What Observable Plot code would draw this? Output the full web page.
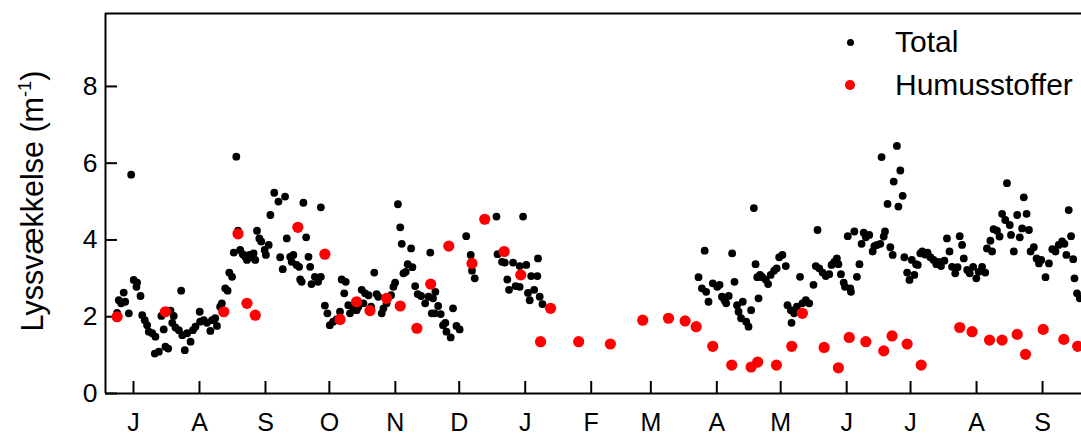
<!DOCTYPE html>
<html>
<head>
<meta charset="utf-8">
<script src="https://cdn.jsdelivr.net/npm/d3@7"></script>
<script src="https://cdn.jsdelivr.net/npm/@observablehq/plot@0.6"></script>
<style>
  html, body { margin: 0; padding: 0; background: #fff; }
  #wrap { position: relative; width: 1081px; height: 437px; font-family: "Liberation Sans", Arial, sans-serif; color: #000; }
  #ylabel { position: absolute; left: 32px; top: 201px; transform: translate(-50%, -50%) rotate(-90deg); white-space: nowrap; font-size: 30.5px; line-height: normal; }
  #ylabel sup { font-size: 0.6em; }
  .legdot { position: absolute; border-radius: 50%; }
  .legtxt { position: absolute; font-size: 30px; line-height: 34px; white-space: nowrap; }
</style>
</head>
<body>
<div id="wrap"></div>
<script>
// Days counted from 1 July 2005
const totalDays = [6.3,7.1,8.2,9.4,10.1,11.8,12.9,14.1,15.4,15.7,17.3,18.1,19.3,20.4,21.2,22.8,24.0,24.3,25.9,27.1,28.2,29.0,30.3,31.4,32.2,32.9,33.7,35.3,36.4,36.9,38.1,39.2,40.8,41.9,43.1,45.1,45.3,47.0,48.5,50.1,50.9,52.4,53.2,54.7,55.5,57.1,58.2,59.0,60.3,61.1,62.3,63.1,64.1,65.3,66.5,67.3,68.4,69.3,70.4,71.2,72.0,73.1,74.0,75.6,76.2,77.5,78.3,80.1,82.1,82.9,84.1,85.2,86.0,87.6,88.3,89.1,90.6,91.8,92.3,93.0,93.8,95.1,96.2,97.0,97.6,99.2,100.7,102.0,102.0,103.9,105.1,106.2,107.8,109.4,111.0,111.8,113.0,113.7,114.9,115.7,117.2,118.8,119.6,121.2,122.0,122.8,124.4,125.6,127.1,128.2,129.0,130.6,131.4,132.9,135.0,136.1,136.9,138.2,139.3,140.0,140.8,141.9,142.8,144.4,145.0,146.3,147.5,149.1,151.0,152.6,153.4,154.1,154.7,155.5,155.8,157.1,158.3,159.4,160.5,161.0,163.0,164.1,165.7,167.2,170.3,172.4,173.0,174.3,184.5,185.0,187.1,188.4,189.6,190.4,192.3,193.5,195.4,195.4,197.0,198.5,199.3,200.1,200.8,202.2,203.7,204.0,204.8,206.1,
279.4,281.0,282.3,283.0,284.1,286.1,288.2,289.3,290.4,291.6,292.4,293.6,295.2,296.3,297.5,298.2,299.4,300.2,301.8,302.9,304.1,305.4,306.2,307.0,307.6,308.3,309.4,311.0,312.1,313.3,314.9,316.1,317.3,318.8,320.4,321.2,322.8,323.1,324.3,325.6,327.1,328.2,329.8,331.4,333.4,334.5,335.3,336.1,337.7,339.2,340.8,341.9,343.2,344.4,345.1,346.3,347.6,348.2,349.5,350.7,351.0,352.6,353.8,355.0,356.0,357.0,358.0,359.6,361.2,362.0,363.2,364.8,365.4,366.4,367.0,368.2,369.5,370.6,371.1,372.6,373.3,374.2,375.3,376.1,377.4,378.5,379.6,380.8,381.6,382.4,383.6,384.5,385.8,387.0,388.3,389.8,391.1,392.2,393.3,394.9,396.1,397.3,398.5,400.0,401.1,402.1,403.2,404.0,405.6,406.8,408.4,409.9,411.0,412.6,414.1,414.9,416.5,417.3,418.0,419.6,420.8,422.0,423.5,424.3,425.6,426.2,427.5,429.1,430.3,431.4,432.2,433.5,434.6,435.4,436.9,438.2,439.3,440.4,442.4,444.0,445.6,447.1,448.6,450.2,451.3,452.2,453.3,454.4,455.4,456.0,457.2,458.5];
const totalValues = [2.10,2.43,2.35,2.63,2.39,2.09,5.70,2.96,2.78,2.89,2.54,2.04,1.91,1.78,1.61,1.57,1.04,1.48,1.09,2.02,1.67,1.22,1.17,2.16,1.84,2.02,1.72,1.65,2.68,1.52,1.13,1.57,1.35,1.65,1.74,2.13,1.87,1.91,1.84,1.63,1.91,1.96,1.76,2.26,2.35,2.74,2.68,3.15,3.04,3.67,6.17,4.24,3.74,3.63,3.56,3.48,3.61,3.55,3.65,3.48,4.24,4.04,3.96,3.74,3.61,3.87,4.65,5.23,5.00,3.55,3.24,5.13,4.04,3.56,3.43,3.61,3.35,3.30,2.97,2.91,4.97,4.07,3.56,3.30,2.85,3.04,2.91,3.04,4.85,2.29,2.09,1.78,1.87,1.93,2.13,2.97,2.61,2.91,2.30,2.09,2.22,2.17,2.26,2.70,2.35,2.61,2.56,2.26,3.15,2.59,2.52,2.09,2.22,2.35,2.56,2.78,2.89,4.93,4.33,3.90,3.13,3.17,3.37,3.78,3.29,2.80,2.59,2.54,2.35,2.52,3.67,2.09,2.48,2.09,2.65,2.28,2.07,1.78,1.84,1.61,1.46,2.22,1.76,1.67,4.10,3.61,3.20,3.00,4.61,3.63,3.43,3.41,2.97,2.70,3.41,2.80,3.32,2.78,4.61,3.35,2.62,2.43,3.06,2.70,3.06,3.52,2.52,2.33,
3.03,2.74,3.72,2.65,2.39,2.87,2.78,2.83,2.52,2.43,2.35,2.54,3.65,2.91,2.30,2.13,1.96,2.39,1.87,1.74,2.17,4.83,3.37,3.03,2.48,3.09,3.03,2.96,2.85,3.09,3.20,3.26,3.55,3.61,3.32,2.30,2.17,1.84,2.09,2.26,3.04,2.35,2.43,2.35,2.83,3.32,4.26,3.26,3.15,3.06,3.11,3.35,3.43,3.52,3.37,3.11,2.89,2.78,4.10,2.74,2.65,4.22,3.04,3.37,3.90,4.19,4.07,4.13,3.70,3.84,3.87,3.90,6.16,4.09,4.22,4.94,3.81,3.61,5.52,6.45,4.87,5.81,5.15,3.55,3.15,2.96,3.48,3.09,3.37,3.35,3.65,3.70,3.62,3.67,3.55,3.48,3.37,3.43,3.32,3.46,4.04,3.70,3.30,3.13,3.29,4.10,3.87,3.52,3.22,3.13,3.30,3.00,3.17,3.30,3.15,3.78,3.98,3.70,4.28,4.24,4.09,4.68,4.52,5.48,4.39,4.13,3.70,4.65,4.07,4.30,5.11,4.68,4.26,3.70,3.81,3.52,3.39,3.48,3.03,3.39,3.76,3.70,3.87,3.96,3.90,3.61,4.78,4.10,3.50,3.00,2.61,2.48];
const humusDays = [6.3,29.0,56.4,63.1,67.3,71.2,91.2,103.9,111.0,118.8,125.1,132.9,139.3,147.1,153.6,162.1,173.0,179.0,188.1,195.9,205.2,209.9,223.1,238.0,253.2,265.3,273.1,278.3,286.1,295.0,304.1,307.2,316.0,323.2,328.2,338.4,345.1,350.2,358.0,366.4,370.3,377.4,384.0,402.1,407.9,416.1,422.0,429.1,433.0,441.3,451.0,457.5];
const humusValues = [2.00,2.13,2.13,4.16,2.35,2.04,4.33,3.63,1.93,2.39,2.16,2.48,2.28,1.70,2.85,3.84,3.39,4.54,3.70,3.09,1.35,2.22,1.35,1.29,1.91,1.96,1.89,1.74,1.23,0.74,0.69,0.82,0.74,1.23,2.09,1.20,0.67,1.46,1.35,1.11,1.50,1.29,0.74,1.72,1.61,1.39,1.39,1.54,1.02,1.67,1.41,1.23];
const tickDates = ["2005-07-15","2005-08-15","2005-09-15","2005-10-15","2005-11-15","2005-12-15","2006-01-15","2006-02-15","2006-03-15","2006-04-15","2006-05-15","2006-06-15","2006-07-15","2006-08-15","2006-09-15"];
const monthLabels = ["J","A","S","O","N","D","J","F","M","A","M","J","J","A","S"];
const yTicks = [0, 2, 4, 6, 8];
const yDomain = [0, 9.9];
const dayDomain = [0.85, 459.3];
const seriesNames = ["Total", "Humusstoffer"];

const t0 = Date.UTC(2005, 6, 1);
const toDate = d => new Date(t0 + d * 864e5);
const total = totalDays.map((d, i) => ({date: toDate(d), value: totalValues[i]}));
const humus = humusDays.map((d, i) => ({date: toDate(d), value: humusValues[i]}));
const ticks = tickDates.map(s => new Date(s + "T00:00:00Z"));
const labelOf = new Map(ticks.map((t, i) => [t.getTime(), monthLabels[i]]));
const xDomain = dayDomain.map(toDate);

const W = 1081, H = 437, mL = 105, mT = 13, mB = 44, mR = 0;
const plotW = W - mL - mR, plotH = H - mT - mB;
const font = "Liberation Sans, Arial, sans-serif";

const chart = Plot.plot({
  width: W, height: H,
  marginLeft: mL, marginTop: mT, marginBottom: mB, marginRight: mR,
  style: {fontFamily: font, background: "#fff", color: "#000"},
  x: {type: "utc", domain: xDomain},
  y: {domain: yDomain},
  marks: [
    Plot.axisX(ticks, {tickSize: 0, tickPadding: 20, fontSize: 25, tickFormat: d => labelOf.get(d.getTime()), label: null}),
    Plot.axisY(yTicks, {tickSize: 0, tickPadding: 8, fontSize: 26.5, label: null}),
    Plot.tickX(ticks, {x: d => d, insetTop: plotH - 12, stroke: "#000", strokeWidth: 2}),
    Plot.tickY(yTicks, {y: d => d, insetRight: plotW - 12, stroke: "#000", strokeWidth: 2}),
    Plot.ruleX([xDomain[0]], {stroke: "#000", strokeWidth: 2}),
    Plot.ruleY([yDomain[0]], {stroke: "#000", strokeWidth: 2}),
    Plot.ruleY([yDomain[1]], {stroke: "#000", strokeWidth: 2}),
    Plot.dot(total, {x: "date", y: "value", r: 3.9, fill: "#000", stroke: null}),
    Plot.dot(humus, {x: "date", y: "value", r: 5.6, fill: "#ff0000", stroke: null})
  ]
});

const wrap = document.getElementById("wrap");
wrap.appendChild(chart);

const yl = document.createElement("div");
yl.id = "ylabel";
yl.innerHTML = "Lyssvækkelse (m<sup>-1</sup>)";
wrap.appendChild(yl);

const legendItems = [
  {name: seriesNames[0], color: "#000", r: 3.5, cy: 42},
  {name: seriesNames[1], color: "#ff0000", r: 4.8, cy: 85}
];
for (const it of legendItems) {
  const dot = document.createElement("div");
  dot.className = "legdot";
  dot.style.left = (850 - it.r) + "px";
  dot.style.top = (it.cy - it.r) + "px";
  dot.style.width = dot.style.height = (2 * it.r) + "px";
  dot.style.background = it.color;
  wrap.appendChild(dot);
  const t = document.createElement("div");
  t.className = "legtxt";
  t.style.left = "895px";
  t.style.top = (it.cy - 17) + "px";
  t.textContent = it.name;
  wrap.appendChild(t);
}
</script>
</body>
</html>
